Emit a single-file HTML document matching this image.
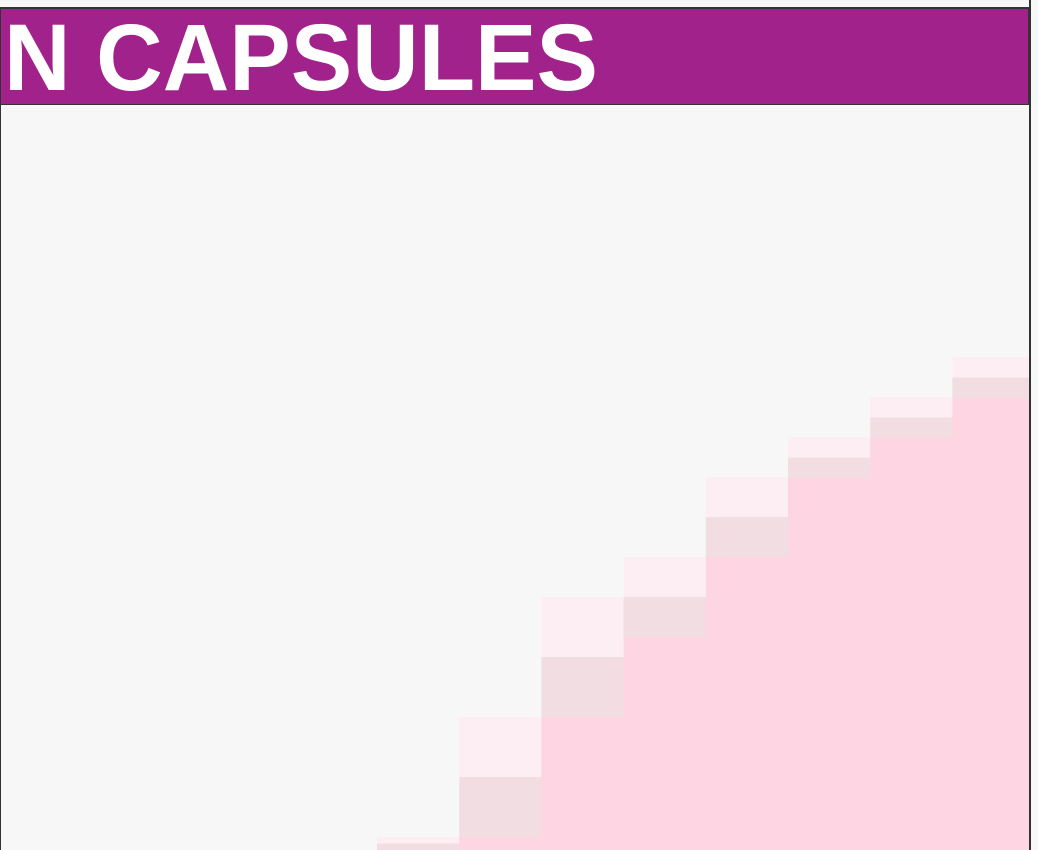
<!DOCTYPE html>
<html><head><meta charset="utf-8"><style>
html,body{margin:0;padding:0;width:1038px;height:850px;overflow:hidden;background:#f7f7f7;}
#banner{position:absolute;left:0;top:8px;width:1027px;height:95px;background:#a0228a;border:1px solid #333;}
#title{position:absolute;left:3px;top:-5px;font-family:"Liberation Sans",sans-serif;font-weight:bold;font-size:95px;color:#fff;white-space:nowrap;transform:scaleX(0.97);transform-origin:left top;}
#rline{position:absolute;left:1029px;top:0;width:2px;height:850px;background:#333;}
#lline{position:absolute;left:0;top:104px;width:1px;height:746px;background:#333;}
#tline{position:absolute;left:0;top:7px;width:1031px;height:1px;background:#333;}
svg{position:absolute;left:0;top:0;}
</style></head><body>
<svg id="chart" width="1038" height="850"></svg>
<div id="banner"><div id="title">N CAPSULES</div></div>
<div id="tline"></div>
<div id="lline"></div>
<div id="rline"></div>
<script>
const categories = ["s1","s2","s3","s4","s5","s6","s7","s8"];
const solidValues = [0, 13, 133, 213, 293, 372, 412, 452];
const fringeValues = [13, 133, 253, 293, 373, 413, 453, 493];
const x0 = 377, colW = 82.2, baseY = 850;
function xPos(i){ return x0 + i*colW; }
function yPos(v){ return baseY - v; }
const svg = document.getElementById('chart');
const NS = 'http://www.w3.org/2000/svg';
categories.forEach((c,i)=>{
  const x = xPos(i), w = (i===categories.length-1) ? 1029 - x : colW + 0.5;
  const fTop = yPos(fringeValues[i]), sTop = yPos(solidValues[i]);
  const fh = sTop - fTop;
  const f1 = document.createElementNS(NS,'rect');
  f1.setAttribute('x',x); f1.setAttribute('y',fTop); f1.setAttribute('width',w); f1.setAttribute('height',fh/2);
  f1.setAttribute('fill','#fdeef4');
  
  
  svg.appendChild(f1);
  const f2 = document.createElementNS(NS,'rect');
  f2.setAttribute('x',x); f2.setAttribute('y',fTop+fh/2); f2.setAttribute('width',w); f2.setAttribute('height',fh/2);
  f2.setAttribute('fill','#f2dde3');
  
  
  svg.appendChild(f2);
  const s = document.createElementNS(NS,'rect');
  s.setAttribute('x',x); s.setAttribute('y',sTop); s.setAttribute('width',w); s.setAttribute('height',Math.max(0,baseY-sTop));
  s.setAttribute('fill','#fed5e2');
  
  
  svg.appendChild(s);
});
</script>
</body></html>
